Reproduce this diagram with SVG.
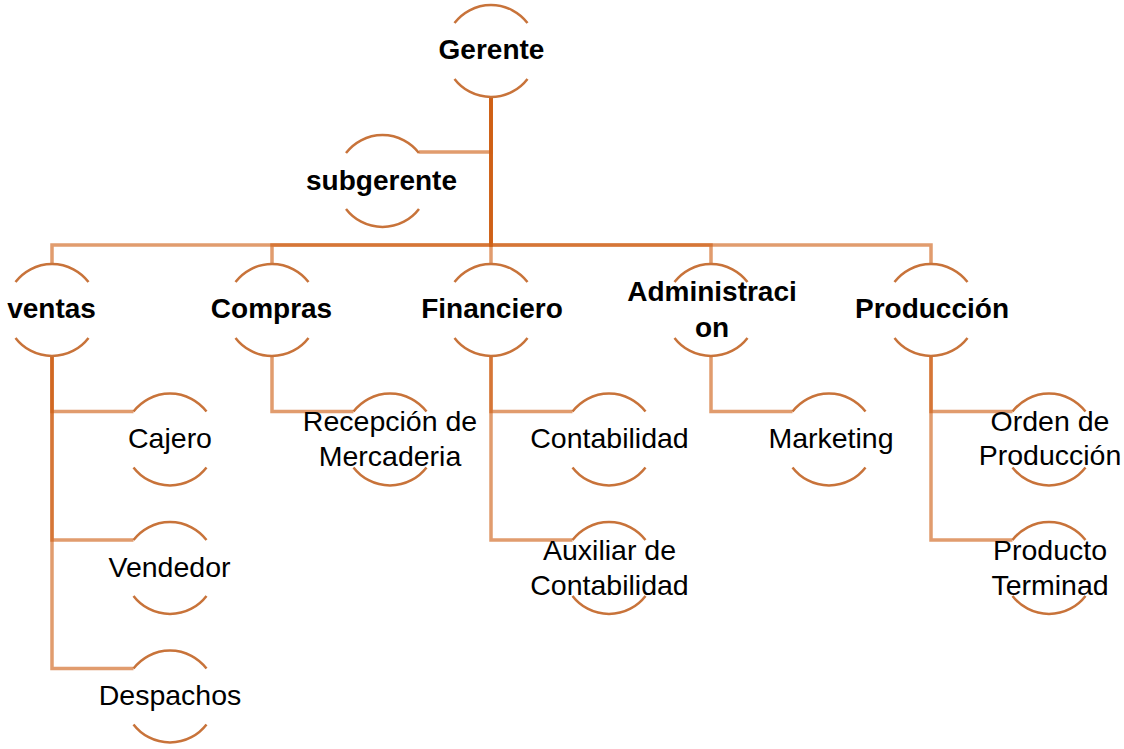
<svg xmlns="http://www.w3.org/2000/svg" xmlns:xlink="http://www.w3.org/1999/xlink" width="1124" height="749" viewBox="0 0 1124 749">
<style>
.ring{fill:none;stroke:#C8733A;stroke-width:2.5}
.conn path{fill:none;stroke:#CF5F15;stroke-opacity:0.62;stroke-width:3.5}
text{font-family:"Liberation Sans",Arial,sans-serif;fill:#000;text-anchor:middle}
.b{font-weight:bold;font-size:28px}
.r{font-size:28.5px}
</style>
<defs>
<path id="ring" class="ring" d="M-36.5,-28 A46,46 0 0 1 36.5,-28 M36.5,28 A46,46 0 0 1 -36.5,28"/>
</defs>
<rect width="1124" height="749" fill="#fff"/>
<g id="connectors" class="conn">
<path d="M491,97 V152 H419"/>
<path d="M491,97 V245 H52 V264"/>
<path d="M491,97 V245 H272 V264"/>
<path d="M491,97 V264"/>
<path d="M491,97 V245 H711 V264"/>
<path d="M491,97 V245 H931 V264"/>
<path d="M52,356 V411.5 H133.5"/>
<path d="M52,356 V540 H133.5"/>
<path d="M52,356 V668.5 H133.5"/>
<path d="M272,356 V411.5 H353.5"/>
<path d="M491,356 V411.5 H572.5"/>
<path d="M491,356 V540 H572.5"/>
<path d="M711,356 V411.5 H792.5"/>
<path d="M931,356 V411.5 H1012.5"/>
<path d="M931,356 V540 H1012.5"/>
</g>
<g id="gerente"><use xlink:href="#ring" x="491" y="51"/><text class="b" x="491.5" y="59">Gerente</text></g>
<g id="subgerente"><use xlink:href="#ring" x="382.5" y="181"/><text class="b" x="381.5" y="190">subgerente</text></g>
<g id="ventas"><use xlink:href="#ring" x="52" y="310"/><text class="b" x="51.5" y="318">ventas</text></g>
<g id="compras"><use xlink:href="#ring" x="272" y="310"/><text class="b" x="271.5" y="318">Compras</text></g>
<g id="financiero"><use xlink:href="#ring" x="491" y="310"/><text class="b" x="492" y="318">Financiero</text></g>
<g id="administracion"><use xlink:href="#ring" x="711" y="310"/><text class="b" x="712" y="301">Administraci</text><text class="b" x="712" y="337">on</text></g>
<g id="produccion"><use xlink:href="#ring" x="931" y="310"/><text class="b" x="932" y="318">Producción</text></g>
<g id="cajero"><use xlink:href="#ring" x="170" y="439.5"/><text class="r" x="170" y="448">Cajero</text></g>
<g id="vendedor"><use xlink:href="#ring" x="170" y="568"/><text class="r" x="169.5" y="577">Vendedor</text></g>
<g id="despachos"><use xlink:href="#ring" x="170" y="696.5"/><text class="r" x="170" y="705">Despachos</text></g>
<g id="recepcion"><use xlink:href="#ring" x="390" y="439.5"/><text class="r" x="390" y="431">Recepción de</text><text class="r" x="390" y="466">Mercaderia</text></g>
<g id="contabilidad"><use xlink:href="#ring" x="609" y="439.5"/><text class="r" x="609.5" y="448">Contabilidad</text></g>
<g id="auxiliar"><use xlink:href="#ring" x="609" y="568"/><text class="r" x="609.5" y="560">Auxiliar de</text><text class="r" x="609.5" y="595">Contabilidad</text></g>
<g id="marketing"><use xlink:href="#ring" x="829" y="439.5"/><text class="r" x="831" y="448">Marketing</text></g>
<g id="orden"><use xlink:href="#ring" x="1049" y="439.5"/><text class="r" x="1050" y="431">Orden de</text><text class="r" x="1050" y="465">Producción</text></g>
<g id="producto"><use xlink:href="#ring" x="1049" y="568"/><text class="r" x="1050" y="560">Producto</text><text class="r" x="1050" y="595">Terminad</text></g>
</svg>
